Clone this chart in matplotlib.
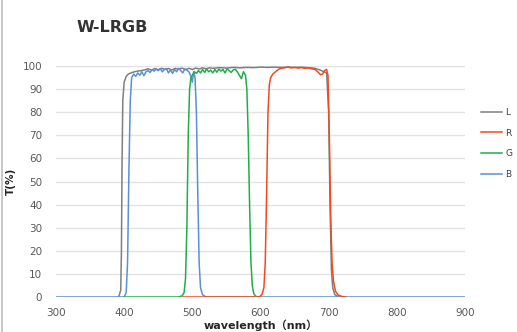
import numpy as np
import matplotlib
matplotlib.use("Agg")
from matplotlib import pyplot as plt
from matplotlib.lines import Line2D

# L filter
L_wl = [390, 392, 395, 396, 397, 398, 400, 403, 406, 410, 415, 420, 425, 430, 435, 440, 445, 450, 455, 460,
        465, 470, 475, 480, 485, 490, 495, 500, 505, 510, 515, 520, 525, 530, 540, 550, 560, 570, 580, 590,
        600, 610, 620, 630, 640, 650, 660, 670, 680, 688, 693, 697, 700, 702, 704, 706, 709, 713, 715]
L_t = [0, 0, 3, 20, 60, 85, 93, 95.5, 96.5, 97, 97.5, 97.8, 98, 98.3, 98.8, 98.2, 98.9, 98.4, 99, 98.5,
       98.9, 98.3, 99, 98.6, 99.1, 98.4, 99, 98.5, 99.1, 98.7, 99.2, 98.8, 99.2, 99, 99.3, 99.1, 99.4, 99.2, 99.4, 99.3,
       99.5, 99.4, 99.5, 99.4, 99.5, 99.4, 99.5, 99.3, 99, 98.2, 97.5, 97, 80, 40, 12, 4, 1, 0.3, 0]

# R filter
R_wl = [486, 598, 602, 605, 607, 609, 611, 613, 615, 618, 622, 626, 630, 635, 640, 645, 650, 655, 660, 665,
        670, 675, 680, 684, 688, 691, 694, 697, 699, 701, 703, 705, 707, 710, 714, 720, 725]
R_t = [0, 0, 1, 4, 15, 45, 80, 92, 95, 96.5, 97.5, 98.5, 99, 99.2, 99.5, 99.2, 99.4, 99.1, 99.3, 99,
       99.2, 98.8, 98.5, 97.5, 96.2, 96.5, 98, 98.5, 96, 70, 35, 15, 7, 2.5, 0.8, 0.2, 0]

# G filter
G_wl = [400, 480, 485, 488, 490, 492, 494, 496, 498, 500, 503, 506, 509, 512, 515, 518, 521, 524, 527, 530,
        533, 536, 539, 542, 545, 548, 551, 554, 557, 560, 563, 566, 569, 572, 575, 578, 580, 582, 584, 586,
        588, 590, 593, 598]
G_t = [0, 0, 0.5, 2, 8, 30, 70, 90, 95, 96, 97.5, 96.8, 98, 97, 98.5, 97.2, 98.8, 97.5, 98.2, 97,
       98.5, 97.3, 98.7, 97.8, 98.5, 97, 98.8, 98, 97.2, 98.3, 98.6, 97.5, 96, 94.5, 97.5, 96, 90, 70, 40, 15,
       5, 1.5, 0.3, 0]

# B filter
B_wl = [300, 400, 403, 405, 407, 409, 411, 414, 417, 420, 423, 426, 429, 432, 435, 438, 441, 444, 447, 450,
        453, 456, 459, 462, 465, 468, 471, 474, 477, 480, 483, 486, 489, 492, 495, 498, 500, 502, 504, 506,
        508, 510, 512, 515, 520, 900]
B_t = [0, 0, 2, 15, 55, 85, 95, 96.5, 95.5, 97, 96, 97.5, 95.8, 97.5, 98, 97.2, 98.4, 97.8, 98.6, 98,
       98.8, 97.5, 98.5, 98.9, 97, 98.3, 96.8, 98.5, 97.5, 99, 98, 97, 98.8, 98.2, 97.5, 95.5, 93, 97.5, 95, 80,
       45, 15, 4, 1, 0, 0]

fig = plt.figure(figsize=(5.17, 3.32), dpi=100)
ax = fig.add_axes([0.1083, 0.1054, 0.7911, 0.6958])

ax.plot(L_wl, L_t, color="#7f7f7f", lw=1.1, label="L", zorder=3)
ax.plot(B_wl, B_t, color="#5b8fd6", lw=1.1, label="B", zorder=4)
ax.plot(G_wl, G_t, color="#1fae4b", lw=1.1, label="G", zorder=5)
ax.plot(R_wl, R_t, color="#f24a1c", lw=1.1, label="R", zorder=6)

ax.set_xlim(300, 900)
ax.set_ylim(0, 100)
ax.set_xticks(np.arange(300, 901, 100))
ax.set_yticks(np.arange(0, 101, 10))
ax.yaxis.grid(True, color="#e3e3e3", lw=1)
ax.set_axisbelow(True)
for s in ax.spines.values():
    s.set_visible(False)
ax.tick_params(length=0, labelsize=7.5, labelcolor="#595959")
ax.tick_params(axis="y", pad=10)
ax.tick_params(axis="x", pad=8)

ax.set_xlabel("wavelength（nm）", fontsize=8, fontweight="bold", color="#262626",
              family=["DejaVu Sans", "Noto Sans CJK SC"], labelpad=1)
ax.set_ylabel("T(%)", fontsize=7.5, fontweight="bold", color="#262626")
ax.yaxis.set_label_coords(-0.097, 0.5)
fig.text(0.217, 0.918, "W-LRGB", fontsize=11.5, fontweight="bold", color="#333333",
         ha="center", va="center")

handles, labels = ax.get_legend_handles_labels()
order = [0, 3, 2, 1]
fig.legend([handles[i] for i in order], [labels[i] for i in order],
           loc="center left", bbox_to_anchor=(0.915, 0.568), frameon=False,
           fontsize=6.5, handlelength=2.3, handletextpad=0.4, labelspacing=1.3,
           labelcolor="#404040")

fig.add_artist(Line2D([0.003, 0.003], [0, 1], transform=fig.transFigure, color="#bfbfbf", lw=1.2))

fig.savefig("out.png", dpi=100)
